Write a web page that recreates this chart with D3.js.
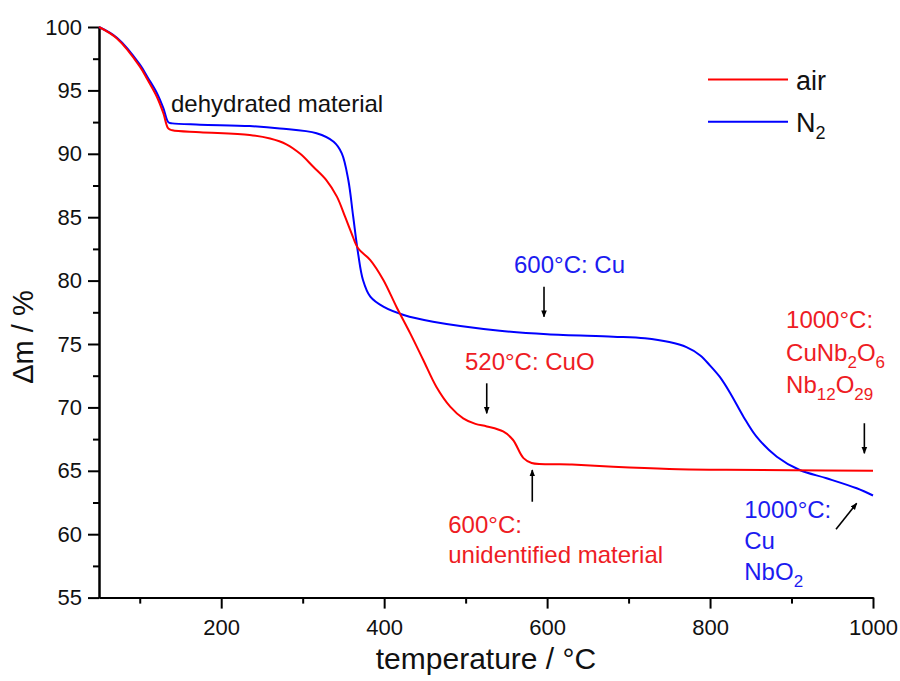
<!DOCTYPE html>
<html>
<head>
<meta charset="utf-8">
<script src="https://cdn.jsdelivr.net/npm/d3@7"></script>
<style>
  html, body { margin: 0; padding: 0; background: #fff; }
  svg { display: block; font-family: "Liberation Sans", Arial, sans-serif; }
</style>
</head>
<body>
<svg id="chart" width="900" height="681"></svg>
<script>
// Thermogravimetric mass loss, heated under air and under nitrogen
const airTemp = [50, 72, 100, 110, 121, 129, 135, 140, 174, 235, 260, 280, 297, 313, 329, 342, 352, 360, 368, 383, 399, 415, 432, 448, 464, 481, 497, 512, 526, 546, 558, 571, 581, 628, 681, 750, 820, 900, 1000];
const airMass = [100, 99.1, 96.9, 95.8, 94.5, 93.2, 92.0, 91.85, 91.7, 91.48, 91.2, 90.75, 90.0, 88.98, 87.93, 86.62, 85.04, 83.73, 82.55, 81.62, 80.05, 77.94, 75.84, 73.74, 71.63, 70.06, 69.14, 68.7, 68.5, 68.1, 67.45, 66.0, 65.62, 65.5, 65.32, 65.15, 65.08, 65.04, 65.0];

const n2Temp = [50, 72, 100, 110, 121, 129, 135, 140, 174, 235, 272, 317, 338, 348, 356, 362, 368, 374, 383, 399, 424, 460, 542, 600, 681, 720, 750, 771, 788, 800, 812, 825, 841, 857, 882, 910, 943, 980, 1000];
const n2Mass = [100, 99.15, 97.05, 96.0, 94.8, 93.6, 92.5, 92.4, 92.3, 92.19, 92.0, 91.62, 90.95, 90.04, 87.93, 85.04, 82.15, 80.05, 78.73, 77.94, 77.29, 76.76, 76.05, 75.77, 75.58, 75.45, 75.15, 74.75, 74.1, 73.3, 72.4, 71.1, 69.27, 67.69, 66.11, 65.06, 64.41, 63.62, 63.05];

const xMajorTicks = [200, 400, 600, 800, 1000];
const xMinorTicks = [100, 300, 500, 700, 900];
const yMajorTicks = [55, 60, 65, 70, 75, 80, 85, 90, 95, 100];
const yMinorTicks = [57.5, 62.5, 67.5, 72.5, 77.5, 82.5, 87.5, 92.5, 97.5];

const seriesNames = ["air", "N2"];

const RED = "#ff0000";
const BLUE = "#0000ff";
const RED_TEXT = "#ee1c24";
const BLUE_TEXT = "#1c1cf0";

const svg = d3.select("#chart");
const x = d3.scaleLinear().domain([50, 1000]).range([99, 873]);
const y = d3.scaleLinear().domain([55, 100]).range([597.6, 27]);

// axes
function styleAxis(g) {
  g.selectAll("path.domain").attr("stroke", "#000").attr("stroke-width", 2);
  g.selectAll(".tick line").attr("stroke", "#000").attr("stroke-width", 2);
  g.selectAll(".tick text").attr("fill", "#111").attr("font-size", 22)
    .attr("font-family", "Liberation Sans, Arial, sans-serif");
}

svg.append("g").attr("transform", `translate(0,${y(55)})`)
  .call(d3.axisBottom(x).tickValues(xMinorTicks).tickSize(6).tickSizeOuter(0).tickFormat(""))
  .call(styleAxis);
svg.append("g").attr("transform", `translate(0,${y(55)})`)
  .call(d3.axisBottom(x).tickValues(xMajorTicks).tickSize(11).tickSizeOuter(0).tickPadding(11).tickFormat(d3.format("d")))
  .call(styleAxis);

svg.append("g").attr("transform", `translate(${x(50)},0)`)
  .call(d3.axisLeft(y).tickValues(yMinorTicks).tickSize(6).tickSizeOuter(0).tickFormat(""))
  .call(styleAxis);
svg.append("g").attr("transform", `translate(${x(50)},0)`)
  .call(d3.axisLeft(y).tickValues(yMajorTicks).tickSize(11).tickSizeOuter(0).tickPadding(6).tickFormat(d3.format("d")))
  .call(styleAxis);

// axis titles
svg.append("text")
  .attr("x", (x(50) + x(1000)) / 2).attr("y", 669)
  .attr("text-anchor", "middle").attr("font-size", 30).attr("fill", "#111")
  .text("temperature / °C");

svg.append("text")
  .attr("transform", "translate(33,337) rotate(-90)")
  .attr("text-anchor", "middle").attr("font-size", 29).attr("fill", "#111")
  .text("Δm / %");

// curves
const line = d3.line().x(d => x(d[0])).y(d => y(d[1])).curve(d3.curveCatmullRom.alpha(0.5));
const airData = airTemp.map((t, i) => [t, airMass[i]]);
const n2Data = n2Temp.map((t, i) => [t, n2Mass[i]]);

svg.append("path").datum(n2Data).attr("d", line)
  .attr("fill", "none").attr("stroke", BLUE).attr("stroke-width", 2);
svg.append("path").datum(airData).attr("d", line)
  .attr("fill", "none").attr("stroke", RED).attr("stroke-width", 2);

// legend
const legend = svg.append("g");
[[seriesNames[0], RED, 79.5, 90], [seriesNames[1], BLUE, 121.7, 132]].forEach(([name, color, ly, by]) => {
  legend.append("line").attr("x1", 708).attr("x2", 788).attr("y1", ly).attr("y2", ly)
    .attr("stroke", color).attr("stroke-width", 2);
  const t = legend.append("text").attr("x", 796).attr("y", by).attr("font-size", 27).attr("fill", "#111");
  if (name === "N2") {
    t.append("tspan").text("N");
    t.append("tspan").attr("font-size", 18).attr("dy", 7).text("2");
  } else {
    t.text(name);
  }
});

// annotations: text lines anchored at (temperature, mass), parts may be subscripts
function note(t0, m0, lines, color, lineGap) {
  const g = svg.append("g").attr("fill", color).attr("font-size", 24);
  lines.forEach((parts, i) => {
    const txt = g.append("text").attr("x", x(t0)).attr("y", y(m0) + i * lineGap);
    let shifted = false;
    parts.forEach(p => {
      if (typeof p === "string") {
        const ts = txt.append("tspan").text(p);
        if (shifted) { ts.attr("dy", -7); shifted = false; }
      } else {
        const ts = txt.append("tspan").attr("font-size", 17).text(p.sub);
        if (!shifted) { ts.attr("dy", 7); shifted = true; }
      }
    });
  });
}

note(138.4, 93.32, [["dehydrated material"]], "#111", 0);
note(559.4, 80.58, [["600°C: Cu"]], BLUE_TEXT, 0);
note(499.2, 72.95, [["520°C: CuO"]], RED_TEXT, 0);
note(478.7, 60.1, [["600°C:"], ["unidentified material"]], RED_TEXT, 30);
note(893.3, 76.26, [["1000°C:"], ["CuNb", {sub: "2"}, "O", {sub: "6"}], ["Nb", {sub: "12"}, "O", {sub: "29"}]], RED_TEXT, 32.5);
note(842, 61.25, [["1000°C:"], ["Cu"], ["NbO", {sub: "2"}]], BLUE_TEXT, 31);

// arrows
const defs = svg.append("defs");
defs.append("marker").attr("id", "head").attr("viewBox", "0 0 10 10")
  .attr("refX", 9).attr("refY", 5).attr("markerWidth", 7).attr("markerHeight", 9)
  .attr("markerUnits", "userSpaceOnUse").attr("orient", "auto")
  .append("path").attr("d", "M0,1 L10,5 L0,9 Z").attr("fill", "#000");

const arrows = [
  [596.2, 79.52, 596.2, 77.15],
  [525.9, 71.9, 525.9, 69.53],
  [581.8, 62.56, 581.8, 65.06],
  [989.4, 68.75, 989.4, 66.38],
  [954.6, 60.39, 980, 62.44]
];
svg.append("g").selectAll("line").data(arrows).join("line")
  .attr("x1", d => x(d[0])).attr("y1", d => y(d[1]))
  .attr("x2", d => x(d[2])).attr("y2", d => y(d[3]))
  .attr("stroke", "#000").attr("stroke-width", 1.6)
  .attr("marker-end", "url(#head)");
</script>
</body>
</html>
